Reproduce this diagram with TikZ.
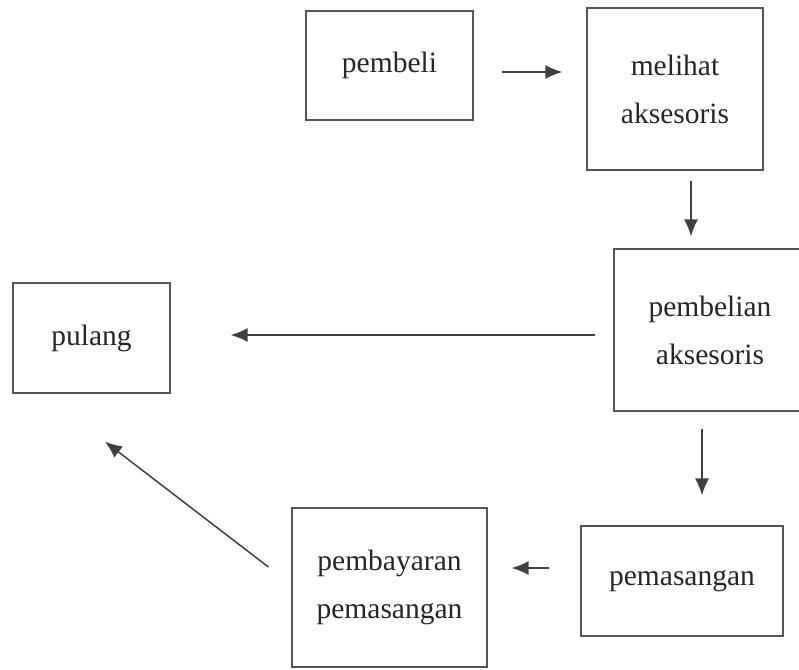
\documentclass[tikz,border=0pt]{standalone}
\usepackage{fontspec}
\setmainfont{Liberation Serif}
\usetikzlibrary{arrows.meta,calc}
\definecolor{ink}{HTML}{262626}
\definecolor{frame}{HTML}{555555}
\definecolor{wire}{HTML}{404040}
\tikzset{
  stepbox/.style={draw=frame, line width=1.2pt, rectangle, inner sep=0pt,
    text=ink, align=center,
    font=\fontsize{29.5pt}{48pt}\selectfont},
  flow/.style={draw=wire, line width=1.5pt,
    -{Latex[length=17pt,width=14pt]}}
}
\begin{document}
\begin{tikzpicture}[x=1pt,y=-1pt]
  \useasboundingbox (0,0) rectangle (799,669);
  \clip (0,0) rectangle (799,669);

  % process boxes
  \node[stepbox, minimum width=167pt, minimum height=109pt] (pembeli) at (389.5,65.5) {pembeli};
  \node[stepbox, minimum width=176pt, minimum height=162pt] (melihat) at (675,89) {melihat\\aksesoris};
  \node[stepbox, minimum width=192pt, minimum height=162pt] (pembelian) at (710,330) {pembelian\\aksesoris};
  \node[stepbox, minimum width=157pt, minimum height=110pt] (pulang) at (91.5,338) {pulang};
  \node[stepbox, minimum width=202pt, minimum height=110pt] (pemasangan) at (682,581) {pemasangan};
  \node[stepbox, minimum width=195pt, minimum height=159pt] (pembayaran) at (389.5,587.5) {pembayaran\\pemasangan};

  % connectors
  \draw[flow, shorten <=28pt, shorten >=24pt]
    ([yshift=-6.5pt]pembeli.east) -- ([yshift=-6.5pt]pembeli.east -| melihat.west);
  \draw[flow, shorten <=10pt, shorten >=12pt]
    ([xshift=16pt]melihat.south) -- ([xshift=16pt]melihat.south |- pembelian.north);
  \draw[flow, shorten <=18pt, shorten >=60pt]
    ([yshift=-5pt]pembelian.west) -- ([yshift=-5pt]pembelian.west -| pulang.east);
  \draw[flow, shorten <=17pt, shorten >=30pt]
    ([xshift=-8pt]pembelian.south) -- ([xshift=-8pt]pembelian.south |- pemasangan.north);
  \draw[flow, shorten <=31pt, shorten >=24pt]
    ([yshift=13pt]pemasangan.west) -- ([yshift=13pt]pemasangan.west -| pembayaran.east);
  \draw[flow]
    ($(pembayaran.west)+(-23,-20.5)$) -- ($(pulang.south)+(13.5,48)$);
\end{tikzpicture}
\end{document}
